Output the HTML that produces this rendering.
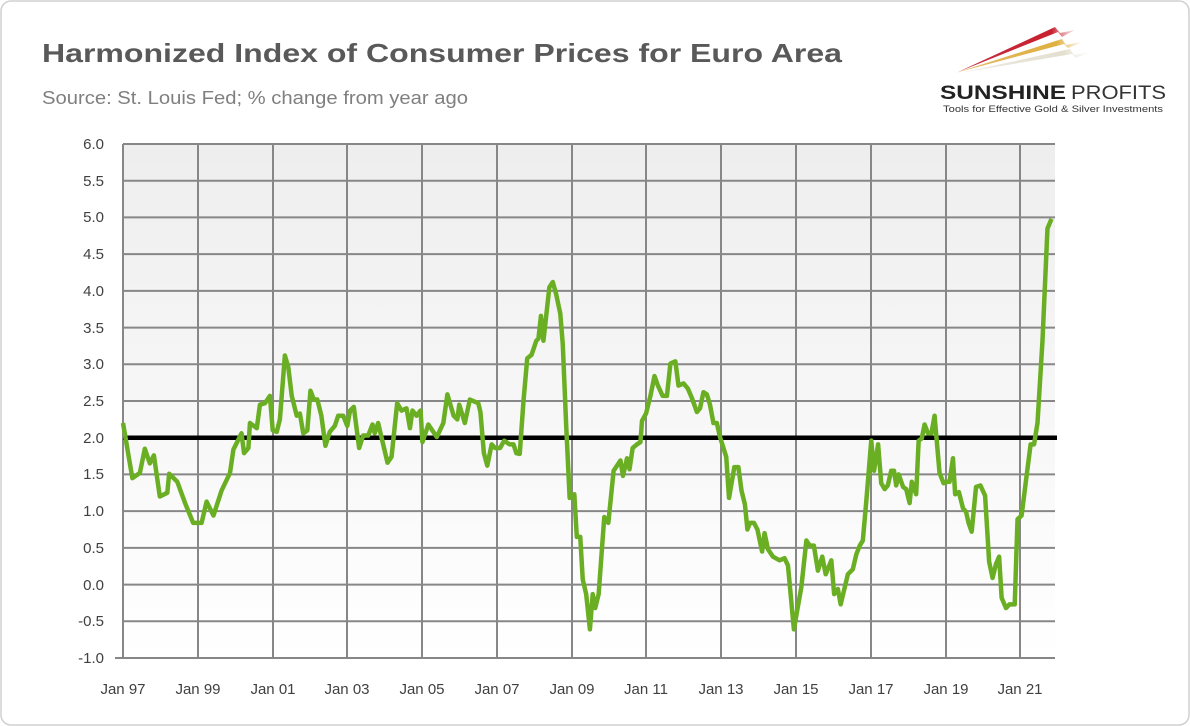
<!DOCTYPE html>
<html><head><meta charset="utf-8"><style>
html,body{margin:0;padding:0;background:#fff;}
svg{display:block;font-family:"Liberation Sans",sans-serif;}
</style></head><body>
<svg width="1190" height="726" viewBox="0 0 1190 726" xmlns="http://www.w3.org/2000/svg">
<defs>
<linearGradient id="bg" x1="0" y1="0" x2="0" y2="1">
<stop offset="0" stop-color="#eeeeee"/><stop offset="1" stop-color="#ffffff"/>
</linearGradient>
<linearGradient id="r1" x1="0" y1="0" x2="1" y2="0"><stop offset="0" stop-color="#c0182e" stop-opacity="0.9"/><stop offset="0.8" stop-color="#c8202e"/><stop offset="1" stop-color="#e8a0a0" stop-opacity="0.3"/></linearGradient>
<linearGradient id="r2" x1="0" y1="0" x2="1" y2="0"><stop offset="0" stop-color="#d9a030" stop-opacity="0.7"/><stop offset="0.8" stop-color="#e0b040"/><stop offset="1" stop-color="#f0d8a0" stop-opacity="0.3"/></linearGradient>
<linearGradient id="r3" x1="0" y1="0" x2="1" y2="0"><stop offset="0" stop-color="#ddd8c8" stop-opacity="0.5"/><stop offset="0.8" stop-color="#e4e0d0"/><stop offset="1" stop-color="#f4f2ea" stop-opacity="0.3"/></linearGradient>
</defs>
<rect x="1" y="1" width="1188" height="724" rx="10" fill="#fff" stroke="#d0d0d0" stroke-width="1.5"/>
<text x="42" y="62" font-size="26" font-weight="bold" fill="#595959" textLength="800" lengthAdjust="spacingAndGlyphs">Harmonized Index of Consumer Prices for Euro Area</text>
<text x="42" y="104" font-size="18" fill="#7f7f7f" textLength="426" lengthAdjust="spacingAndGlyphs">Source: St. Louis Fed; % change from year ago</text>
<!-- logo -->
<polygon points="958,72 1055,27 1060,33 1075,30 1062,37 1058,32" fill="url(#r1)"/>
<polygon points="955,73 1062,39 1066,45 1082,42 1068,48 1064,44" fill="url(#r2)"/>
<polygon points="960,73 1070,49 1074,55 1090,52 1076,58 1072,54" fill="url(#r3)"/>
<text x="940" y="99" font-size="19" font-weight="bold" fill="#222" textLength="126" lengthAdjust="spacingAndGlyphs">SUNSHINE</text>
<text x="1071" y="99" font-size="19" fill="#333" textLength="95" lengthAdjust="spacingAndGlyphs">PROFITS</text>
<text x="943" y="112" font-size="9.5" fill="#333" textLength="220" lengthAdjust="spacingAndGlyphs">Tools for Effective Gold &amp; Silver Investments</text>
<!-- plot -->
<rect x="123" y="144" width="932" height="514" fill="url(#bg)"/>
<g stroke="#878787" stroke-width="2" fill="none">
<line x1="123" y1="144" x2="1055" y2="144"/><line x1="123" y1="180.7" x2="1055" y2="180.7"/>
<line x1="123" y1="217.4" x2="1055" y2="217.4"/><line x1="123" y1="254.1" x2="1055" y2="254.1"/>
<line x1="123" y1="290.9" x2="1055" y2="290.9"/><line x1="123" y1="327.6" x2="1055" y2="327.6"/>
<line x1="123" y1="364.3" x2="1055" y2="364.3"/><line x1="123" y1="401" x2="1055" y2="401"/>
<line x1="123" y1="474.4" x2="1055" y2="474.4"/><line x1="123" y1="511.1" x2="1055" y2="511.1"/>
<line x1="123" y1="547.9" x2="1055" y2="547.9"/><line x1="123" y1="584.6" x2="1055" y2="584.6"/>
<line x1="123" y1="621.3" x2="1055" y2="621.3"/><line x1="115" y1="658" x2="1055" y2="658"/>
<line x1="123" y1="144" x2="123" y2="658"/><line x1="198" y1="144" x2="198" y2="658"/>
<line x1="273" y1="144" x2="273" y2="658"/><line x1="347" y1="144" x2="347" y2="658"/>
<line x1="422" y1="144" x2="422" y2="658"/><line x1="497" y1="144" x2="497" y2="658"/>
<line x1="572" y1="144" x2="572" y2="658"/><line x1="646" y1="144" x2="646" y2="658"/>
<line x1="721" y1="144" x2="721" y2="658"/><line x1="796" y1="144" x2="796" y2="658"/>
<line x1="871" y1="144" x2="871" y2="658"/><line x1="946" y1="144" x2="946" y2="658"/>
<line x1="1020" y1="144" x2="1020" y2="658"/>
</g>
<g font-size="15" fill="#404040" text-anchor="end">
<text x="104" y="149">6.0</text><text x="104" y="186">5.5</text><text x="104" y="222">5.0</text>
<text x="104" y="259">4.5</text><text x="104" y="296">4.0</text><text x="104" y="333">3.5</text>
<text x="104" y="369">3.0</text><text x="104" y="406">2.5</text><text x="104" y="443">2.0</text>
<text x="104" y="479">1.5</text><text x="104" y="516">1.0</text><text x="104" y="553">0.5</text>
<text x="104" y="590">0.0</text><text x="104" y="626">-0.5</text><text x="104" y="663">-1.0</text>
</g>
<g font-size="15" fill="#404040" text-anchor="middle">
<text x="123" y="694">Jan 97</text><text x="198" y="694">Jan 99</text><text x="273" y="694">Jan 01</text>
<text x="347" y="694">Jan 03</text><text x="422" y="694">Jan 05</text><text x="497" y="694">Jan 07</text>
<text x="572" y="694">Jan 09</text><text x="646" y="694">Jan 11</text><text x="721" y="694">Jan 13</text>
<text x="796" y="694">Jan 15</text><text x="871" y="694">Jan 17</text><text x="946" y="694">Jan 19</text>
<text x="1020" y="694">Jan 21</text>
</g>
<line x1="123" y1="437.7" x2="1057" y2="437.7" stroke="#000" stroke-width="4.5"/>
<g transform="translate(123,584.58) scale(3.119,-73.43)">
<polyline fill="none" stroke="#6aaf23" stroke-width="4.5" stroke-linejoin="round" vector-effect="non-scaling-stroke" points="
0,2.2 3,1.45 5.4,1.52 7,1.85 8.6,1.65 9.9,1.76 11.8,1.2 14.2,1.25 14.8,1.51 17.4,1.4 19.9,1.11 22.5,0.84 25.2,0.84 26.8,1.13 29,0.94 31.6,1.28 34.3,1.52 35.4,1.84 38,2.06 38.8,1.79 40.2,1.86 40.7,2.2 42.9,2.13 43.9,2.45 45.5,2.47 47.1,2.57 48,2.1 49.3,2.08 50.3,2.25 51.9,3.12 53,2.96 54.1,2.57 55.7,2.3 56.7,2.33 57.8,2.06 59.1,2.1 60.1,2.64 61.2,2.52 62.3,2.52 63.6,2.3 64.9,1.89 66.3,2.08 67.9,2.16 69,2.3 70.6,2.3 71.9,2.16 72.8,2.37 74,2.42 75.7,1.86 77,2.03 78.6,2.03 80,2.18 80.7,2.06 81.8,2.2 84.8,1.66 86.1,1.74 87.9,2.47 89.3,2.37 90.9,2.4 92,2.13 92.8,2.37 94.1,2.3 95.4,2.37 96,1.94 97.9,2.18 100.6,2.01 102.7,2.2 104,2.59 106,2.3 107.2,2.25 107.8,2.45 109.6,2.2 111.2,2.52 113.9,2.47 114.6,2.35 115.7,1.79 116.8,1.62 118.2,1.91 119.3,1.86 120.9,1.86 122.2,1.96 123.9,1.91 125.2,1.91 126.1,1.79 127.2,1.78 128.4,2.5 129.6,3.08 131,3.13 132.5,3.32 133.2,3.35 134,3.66 134.8,3.32 136.7,4.05 137.8,4.12 138.9,3.95 140.2,3.69 141,3.27 142.1,2.16 143.2,1.18 144.7,1.23 145.5,0.65 146.6,0.65 147.4,0.07 148.5,-0.13 149.7,-0.61 150.6,-0.13 151.4,-0.32 152.5,-0.13 154.3,0.92 155.6,0.84 157.3,1.55 159.5,1.69 160.3,1.48 161.6,1.72 162.4,1.57 163.4,1.86 164.8,1.91 165.9,1.94 166.4,2.23 167.7,2.33 169.1,2.57 170.4,2.84 171.5,2.71 173,2.57 174.4,2.57 175.5,3.01 177.1,3.04 178.1,2.71 179.7,2.74 181.1,2.67 182.4,2.54 184,2.35 185,2.4 186.1,2.62 187.2,2.59 188.2,2.45 189.3,2.2 190.4,2.2 191.4,2.01 193.4,1.74 194.3,1.18 196,1.6 197.3,1.6 198.3,1.28 199.4,1.09 200.2,0.75 201,0.84 202.3,0.84 203.4,0.75 204.9,0.45 205.7,0.7 206.8,0.48 208.4,0.38 210.5,0.33 212.1,0.36 213.2,0.26 215.1,-0.61 217.5,-0.03 219.1,0.6 220.2,0.53 221.5,0.53 222.8,0.19 224.2,0.38 225.3,0.14 227.1,0.33 228,-0.13 229.2,-0.06 230.1,-0.27 232.4,0.14 234,0.21 235.1,0.41 236.2,0.53 237.2,0.6 238.3,1.13 239.9,1.96 240.8,1.55 242.1,1.91 243.1,1.38 244.2,1.3 245.2,1.35 246.3,1.55 247.2,1.55 247.9,1.35 248.7,1.5 250.1,1.33 251.1,1.3 252.2,1.11 252.9,1.4 254.3,1.23 255.1,1.96 256.1,1.99 257,2.18 258.1,2.06 259.2,2.06 260.2,2.3 261.8,1.52 263.1,1.38 264.3,1.4 265,1.4 266.1,1.72 266.8,1.23 268,1.26 269.3,1.04 270.3,0.99 271.1,0.84 272.1,0.72 273.5,1.33 274.9,1.35 276.4,1.21 277.7,0.31 278.8,0.09 279.9,0.28 280.9,0.38 281.7,-0.18 283.1,-0.32 284.2,-0.27 285.9,-0.27 286.8,0.89 288.1,0.94 289.4,1.38 291,1.91 292.1,1.91 293.2,2.2 294.8,3.32 296.4,4.85 297.7,4.98"/>
</g>
</svg>
</body></html>
